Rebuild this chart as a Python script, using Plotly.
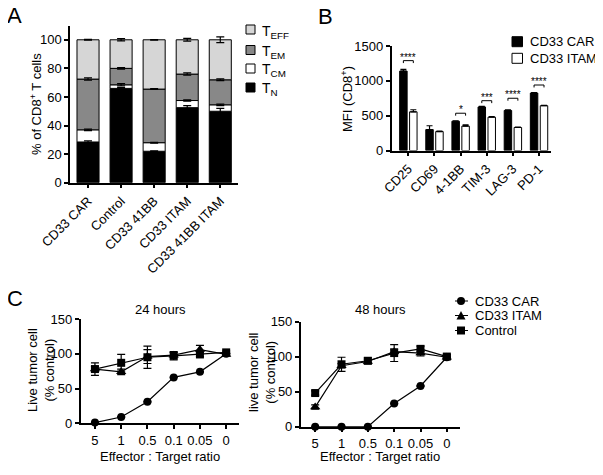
import plotly.graph_objects as go
import numpy as np

# ---------------- Panel A data ----------------
catsA = ["CD33 CAR", "Control", "CD33 41BB", "CD33 ITAM", "CD33 41BB ITAM"]
tn = [28.5, 66, 22, 52.5, 50]
tcm = [8.5, 2.5, 6, 5, 4.5]
tem = [35.5, 11.5, 37.5, 18.5, 17.5]
teff = [27.5, 20, 34.5, 24, 28]
tn_err = [0.8, 0.5, 0.3, 1.5, 2.0]
tcm_err = [0.5, 0.8, 0.3, 0.5, 0.5]
tem_err = [0.8, 0.5, 0.3, 0.8, 0.6]
teff_err = [0.3, 0.8, 0.2, 1.0, 2.0]
subset_names = ["T<sub>N</sub>", "T<sub>CM</sub>", "T<sub>EM</sub>", "T<sub>EFF</sub>"]
subset_colors = ["#000000", "#ffffff", "#888888", "#d6d6d6"]

# ---------------- Panel B data ----------------
markersB = ["CD25", "CD69", "4-1BB", "TIM-3", "LAG-3", "PD-1"]
car_mfi = [1140, 300, 420, 625, 575, 825]
itam_mfi = [555, 272, 350, 478, 330, 643]
car_mfi_err = [25, 55, 6, 8, 8, 5]
itam_mfi_err = [30, 5, 18, 8, 6, 5]
signif = ["****", "", "*", "***", "****", "****"]
bracket_y = [1290, None, 535, 715, 750, 940]

# ---------------- Panel C data ----------------
ratios = ["5", "1", "0.5", "0.1", "0.05", "0"]
car24 = [1, 9, 31, 66, 74, 100]
itam24 = [78, 74, 96, 98, 106, 99]
ctrl24 = [78, 87, 95, 97, 99, 102]
car24_err = [0.5, 0.5, 0.5, 0.5, 0.5, 0.5]
itam24_err = [4, 4, 10, 4, 6, 2]
ctrl24_err = [9, 12, 16, 6, 3, 2]
car48 = [0, 0, 0, 33, 58, 99]
itam48 = [28, 87, 93, 107, 105, 99]
ctrl48 = [48, 89, 94, 105, 111, 100]
car48_err = [0.5, 0.5, 0.5, 0.5, 0.5, 0.5]
itam48_err = [3, 3, 3, 4, 4, 3]
ctrl48_err = [3, 10, 4, 12, 4, 3]
seriesC = ["CD33 CAR", "CD33 ITAM", "Control"]
symbolsC = ["circle", "triangle-up", "square"]

# the page body has an 8px margin: the figure starts at (8, 8) of the window
OFF = 8
W, H = 603 - OFF, 475 - OFF
FONT = "Arial, Liberation Sans, sans-serif"


def px(x):
    return (x - OFF) / W


def py(y):
    return 1 - (y - OFF) / H


fig = go.Figure()

# ---- Panel A stacked bars ----
segs = [tn, tcm, tem, teff]
errs = [tn_err, tcm_err, tem_err, teff_err]
base = np.zeros(len(catsA))
tops = []
for vals, col, name in zip(segs, subset_colors, subset_names):
    vals = np.array(vals, dtype=float)
    fig.add_trace(go.Bar(x=catsA, y=vals, base=base.copy(), width=0.667, name=name,
                         marker=dict(color=col, line=dict(color="black", width=1)),
                         xaxis="x", yaxis="y", showlegend=False))
    base = base + vals
    tops.append(base.copy())
for top, err in zip(tops, errs):
    fig.add_trace(go.Scatter(x=catsA, y=top, mode="markers",
                             marker=dict(size=1, color="rgba(0,0,0,0)"),
                             error_y=dict(type="data", array=err, color="black", thickness=1.2, width=4),
                             xaxis="x", yaxis="y", showlegend=False, hoverinfo="skip"))

# ---- Panel B grouped bars ----
bw = 0.286
fig.add_trace(go.Bar(x=markersB, y=car_mfi, width=bw, offset=-0.333, name="CD33 CAR",
                     marker=dict(color="black", line=dict(color="black", width=1)),
                     error_y=dict(type="data", array=car_mfi_err, arrayminus=[0] * 6, symmetric=False,
                                  color="black", thickness=1.2, width=3),
                     xaxis="x2", yaxis="y2", showlegend=False))
fig.add_trace(go.Bar(x=markersB, y=itam_mfi, width=bw, offset=0.047, name="CD33 ITAM",
                     marker=dict(color="white", line=dict(color="black", width=1)),
                     error_y=dict(type="data", array=itam_mfi_err, arrayminus=[0] * 6, symmetric=False,
                                  color="black", thickness=1.2, width=3),
                     xaxis="x2", yaxis="y2", showlegend=False))

shapes = []
annotations = []
for i, (s, by) in enumerate(zip(signif, bracket_y)):
    if not s:
        continue
    x0, x1 = i - 0.19, i + 0.19
    tick = 35
    shapes.append(dict(type="path", xref="x2", yref="y2",
                       path=f"M{x0},{by - tick} L{x0},{by} L{x1},{by} L{x1},{by - tick}",
                       line=dict(color="black", width=1)))
    annotations.append(dict(x=i, y=by, xref="x2", yref="y2", text=s, showarrow=False,
                            yanchor="bottom", yshift=-4, font=dict(size=10, color="black", family=FONT)))

# ---- Panel C line charts ----
for (xa, ya), data in [(("x3", "y3"), [(car24, car24_err), (itam24, itam24_err), (ctrl24, ctrl24_err)]),
                       (("x4", "y4"), [(car48, car48_err), (itam48, itam48_err), (ctrl48, ctrl48_err)])]:
    for (vals, err), sym, name in zip(data, symbolsC, seriesC):
        fig.add_trace(go.Scatter(x=ratios, y=vals, mode="lines+markers", name=name,
                                 line=dict(color="black", width=1.2),
                                 marker=dict(symbol=sym, size=9 if sym == "triangle-up" else 8, color="black"),
                                 error_y=dict(type="data", array=err, color="black", thickness=1.2, width=4),
                                 cliponaxis=False, xaxis=xa, yaxis=ya, showlegend=False))

# ---- Manual legends ----
# Panel A legend
legA_rows = [29.5, 50, 68.5, 87.5]
legA_order = [3, 2, 1, 0]
for yc, k in zip(legA_rows, legA_order):
    shapes.append(dict(type="rect", xref="paper", yref="paper", x0=px(246), x1=px(255),
                       y0=py(yc + 4.5), y1=py(yc - 4.5), fillcolor=subset_colors[k],
                       line=dict(color="black", width=1)))
    annotations.append(dict(x=px(260), y=py(yc), xref="paper", yref="paper", text=subset_names[k],
                            showarrow=False, xanchor="left", yanchor="middle", yshift=-2,
                            font=dict(size=14, color="black", family=FONT)))
# Panel B legend
for yc, col, name in zip([41.7, 58.3], ["black", "white"], ["CD33 CAR", "CD33 ITAM"]):
    shapes.append(dict(type="rect", xref="paper", yref="paper", x0=px(512), x1=px(522.5),
                       y0=py(yc + 5), y1=py(yc - 5), fillcolor=col, line=dict(color="black", width=1)))
    annotations.append(dict(x=px(527.5), y=py(yc), xref="paper", yref="paper", text=name, showarrow=False,
                            xanchor="left", yanchor="middle", font=dict(size=13, color="black", family=FONT)))
# Panel C legend
for yc, sym, name in zip([301, 315.5, 330.5], symbolsC, seriesC):
    shapes.append(dict(type="line", xref="paper", yref="paper", x0=px(455), x1=px(468), y0=py(yc), y1=py(yc),
                       line=dict(color="black", width=1)))
    cx = 461
    if sym == "circle":
        shapes.append(dict(type="circle", xref="paper", yref="paper", x0=px(cx - 4), x1=px(cx + 4),
                           y0=py(yc + 4), y1=py(yc - 4), fillcolor="black", line=dict(color="black", width=0)))
    elif sym == "square":
        shapes.append(dict(type="rect", xref="paper", yref="paper", x0=px(cx - 4), x1=px(cx + 4),
                           y0=py(yc + 4), y1=py(yc - 4), fillcolor="black", line=dict(color="black", width=0)))
    else:
        shapes.append(dict(type="path", xref="paper", yref="paper",
                           path=f"M{px(cx - 4.5)},{py(yc + 4)} L{px(cx + 4.5)},{py(yc + 4)} L{px(cx)},{py(yc - 4.5)} Z",
                           fillcolor="black", line=dict(color="black", width=0)))
    annotations.append(dict(x=px(472.5), y=py(yc), xref="paper", yref="paper", text=name, showarrow=False,
                            xanchor="left", yanchor="middle", font=dict(size=13, color="black", family=FONT)))

# ---- Text labels ----
def txt(x, y, t, size=13, angle=0, xanchor="center"):
    annotations.append(dict(x=px(x), y=py(y), xref="paper", yref="paper", text=t, showarrow=False,
                            textangle=angle, xanchor=xanchor, yanchor="middle",
                            font=dict(size=size, color="black", family=FONT)))


txt(14.5, 15.7, "A", 22)
txt(325.5, 16, "B", 22)
txt(14.5, 298, "C", 22)
txt(36, 104, "% of CD8<sup>+</sup> T cells", 13, -90)
txt(347, 99, "MFI (CD8<sup>+</sup>)", 13, -90)
txt(41, 370, "Live tumor cell<br>(% control)", 13, -90)
txt(262, 372, "live tumor cell<br>(% control)", 13, -90)
txt(160, 309, "24 hours", 13)
txt(380, 309, "48 hours", 13)
txt(160, 456.5, "Effector : Target ratio", 13)
txt(380, 456.5, "Effector : Target ratio", 13)

axis_common = dict(showline=True, linecolor="black", linewidth=1.5, ticks="outside", ticklen=4,
                   tickwidth=1.5, tickcolor="black", showgrid=False, zeroline=False,
                   tickfont=dict(size=13, color="black", family=FONT), fixedrange=True)

fig.update_layout(
    width=W, height=H, autosize=False,
    margin=dict(l=0, r=0, t=0, b=0, autoexpand=False),
    paper_bgcolor="white", plot_bgcolor="white",
    barmode="overlay", showlegend=False,
    font=dict(family=FONT, color="black", size=13),
    xaxis=dict(axis_common, domain=[px(70), px(238.3)], anchor="y", type="category",
               categoryorder="array", categoryarray=catsA, range=[-0.545, 4.545], tickangle=-45),
    yaxis=dict(axis_common, domain=[py(182.7), py(25.5)], anchor="x", range=[0, 110],
               tickvals=[0, 20, 40, 60, 80, 100]),
    xaxis2=dict(axis_common, domain=[px(391.5), px(551)], anchor="y2", type="category",
                categoryorder="array", categoryarray=markersB, range=[-0.645, 5.458], tickangle=-45),
    yaxis2=dict(axis_common, domain=[py(150.5), py(46)], anchor="x2", range=[0, 1500],
                tickvals=[0, 500, 1000, 1500]),
    xaxis3=dict(axis_common, domain=[px(80.5), px(239.3)], anchor="y3", type="category",
                categoryorder="array", categoryarray=ratios, range=[-0.55, 5.5]),
    yaxis3=dict(axis_common, domain=[py(423.3), py(319)], anchor="x3", range=[0, 150],
                tickvals=[0, 50, 100, 150]),
    xaxis4=dict(axis_common, domain=[px(300.7), px(460)], anchor="y4", type="category",
                categoryorder="array", categoryarray=ratios, range=[-0.55, 5.5]),
    yaxis4=dict(axis_common, domain=[py(426.7), py(321.5)], anchor="x4", range=[0, 150],
                tickvals=[0, 50, 100, 150]),
    shapes=shapes,
    annotations=annotations,
)

fig.write_html("out.html")
